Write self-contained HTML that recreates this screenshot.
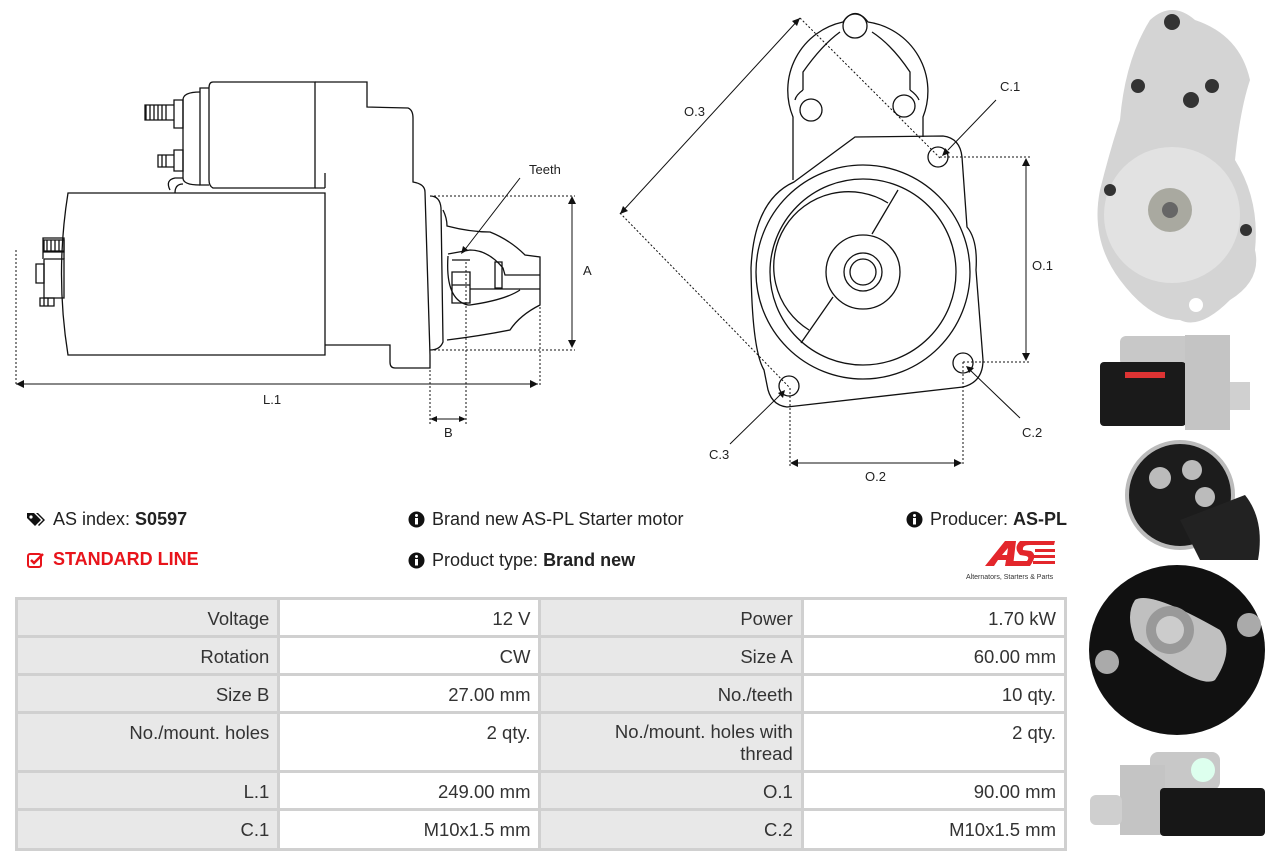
<!DOCTYPE html>
<html><head><meta charset="utf-8"><style>
html,body{margin:0;padding:0;background:#fff;width:1276px;height:860px;overflow:hidden;font-family:"Liberation Sans",sans-serif;}
.abs{position:absolute;}
.t{font-size:18px;color:#222;white-space:nowrap;}
table{position:absolute;left:15px;top:597px;border-collapse:collapse;width:1052px;font-size:18.5px;color:#333;}
td{border:3px solid #d0d0d0;text-align:right;padding:8px 8px 0 8px;vertical-align:top;height:27px;}
td.l{background:#e8e8e8;}
td.v{background:#fff;}
</style></head><body>
<svg class="abs" style="left:0;top:0" width="1276" height="860" viewBox="0 0 1276 860" fill="none" stroke="#111" stroke-width="1.3" font-family="Liberation Sans, sans-serif">
<path d="M68 193 L325 193 L325 355 L68 355 Q55 274 68 193 Z"/>
<path d="M325 188 L325 173 M315 188 L325 188"/>
<path d="M213 82 L315 82 L315 188 L213 188 Q209 186 209 180 L209 88 Q209 82 213 82 Z"/>
<path d="M209 88 L200 88 L200 185 L209 185"/>
<path d="M200 92 Q183 92 183 100 L183 178 Q183 185 200 185"/>
<path d="M315 82 L367 82 L367 107 L408 108 Q413 110 413 118 L413 182 Q425 184 425 192 L430 355 L430 368 L395 368 Q390 368 390 362 L390 345 L325 345"/>
<path d="M170 190 Q165 180 175 178 L183 178 M175 193 Q175 184 183 184"/>
<path d="M174 100 L174 128 L183 128 L183 100 Z M145 105 L174 105 L174 120 L145 120 Z"/>
<path d="M146 105 v15 M150 105 v15 M154 105 v15 M158 105 v15 M162 105 v15 M166 105 v15"/>
<path d="M174 150 L174 171 L183 171 L183 150 Z M158 155 L174 155 L174 167 L158 167 Z M162 155 v12 M166 155 v12"/>
<path d="M43 259 L43 238 L64 238 L64 259"/>
<path d="M44 240 h20 v12 h-20 z M47 240v12 M51 240v12 M55 240v12 M59 240v12"/>
<path d="M44 251 L64 251 M44 259 L64 259 L64 298 L44 298 L44 259"/>
<path d="M36 264 L44 264 L44 283 L36 283 Z"/>
<path d="M40 298 L54 298 L54 306 L40 306 Z M44 298v8 M48 298v8"/>
<path d="M430 196 Q440 196 441 208 L443 342 Q440 350 430 350"/>
<path d="M443 210 Q447 218 447 226 Q470 232 490 232 Q510 240 525 255 L540 257 L540 305 Q520 315 510 330 Q480 336 447 340"/>
<path d="M448 254 L470 250 Q488 250 503 268 L505 275 L540 275 M470 289 L540 289 M448 256 Q445 300 468 305 L470 305 Q505 300 520 290"/>
<path d="M452 272 L470 272 L470 303 L452 303 Z M452 285 L470 285 M452 260 L470 260"/>
<path d="M495 262 L502 262 L502 288 L495 288 Z"/>
<g stroke-dasharray="2,2" stroke-width="1">
<path d="M430 196 L575 196 M430 350 L575 350 M16 250 L16 385 M540 275 L540 385 M430 350 L430 424 M466 262 L466 424"/>
<path d="M620 213 L790 388 M800 18 L940 158 M940 157 L1030 157 M963 362 L1030 362 M790 388 L790 466 M963 362 L963 466"/>
</g>
<g stroke-width="1">
<path d="M572 198 L572 346 M16 384 L538 384 M432 419 L464 419"/>
<path d="M620 214 L800 18 M1026 160 L1026 359 M792 463 L960 463"/>
<path d="M948 150 L996 100 M970 370 L1020 418 M780 395 L730 444 M463 252 L520 178"/>
</g>
<g fill="#111" stroke="none">
<path d="M572 196 l-4 8 h8z M572 348 l-4 -8 h8z M16 384 l8 -4 v8z M538 384 l-8 -4 v8z M430 419 l7 -3 v6z M466 419 l-7 -3 v6z"/>
<path d="M620 214 l3 -8 l5 5z M800 18 l-8 3 l5 5z M1026 158 l-4 8 h8z M1026 361 l-4 -8 h8z M790 463 l8 -4 v8z M962 463 l-8 -4 v8z"/>
<path d="M942 156 l3 -8 l5 5z M966 366 l8 2 l-5 5z M785 390 l-2 8 l-5 -5z M461 254 l2 -8 l5 4z"/>
</g>
<g fill="#222" stroke="none" font-size="13">
<text x="529" y="174">Teeth</text><text x="583" y="275">A</text><text x="263" y="404">L.1</text><text x="444" y="437">B</text>
<text x="684" y="116">O.3</text><text x="1000" y="91">C.1</text><text x="1032" y="270">O.1</text><text x="1022" y="437">C.2</text><text x="709" y="459">C.3</text><text x="865" y="481">O.2</text>
</g>
<path d="M793 180 L793 117 A70 70 0 0 1 843 22 Q855 5 868 22 A70 70 0 0 1 923 117 L923 137"/>
<path d="M803 90 L803 72 Q822 45 840 32 M910 90 L910 72 Q892 45 872 32"/>
<path d="M803 90 Q796 95 795 100 M910 90 Q917 95 919 100"/>
<circle cx="855" cy="26" r="12"/><circle cx="811" cy="110" r="11"/><circle cx="904" cy="106" r="11"/>
<path d="M794 182 L855 137 L943 136 Q960 138 962 157 L967 227 Q978 240 976 270 L983 360 Q983 382 963 387 L787 407 Q770 405 767 385 L764 370 Q752 350 751 268 Q754 200 794 182 Z"/>
<circle cx="863" cy="272" r="107"/><circle cx="863" cy="272" r="93"/>
<path d="M888 203 A72 72 0 0 0 809 330"/>
<path d="M898 190 L872 234 M833 297 L801 343"/>
<circle cx="863" cy="272" r="37"/><circle cx="863" cy="272" r="19"/><circle cx="863" cy="272" r="13"/>
<circle cx="938" cy="157" r="10"/><circle cx="963" cy="363" r="10"/><circle cx="789" cy="386" r="10"/>
<g stroke="none">
<path d="M1150 20 Q1172 0 1195 20 Q1240 35 1250 80 Q1240 110 1235 160 Q1260 200 1255 250 Q1262 280 1230 300 Q1200 330 1180 320 Q1150 320 1120 280 Q1090 240 1100 190 Q1110 150 1120 120 Q1125 60 1150 20 Z" fill="#d4d4d4"/>
<circle cx="1172" cy="215" r="68" fill="#e2e2e2"/><circle cx="1170" cy="210" r="22" fill="#a9a9a0"/><circle cx="1170" cy="210" r="8" fill="#666"/>
<circle cx="1172" cy="22" r="8" fill="#333"/><circle cx="1138" cy="86" r="7" fill="#333"/><circle cx="1212" cy="86" r="7" fill="#333"/><circle cx="1191" cy="100" r="8" fill="#333"/><circle cx="1110" cy="190" r="6" fill="#333"/><circle cx="1246" cy="230" r="6" fill="#333"/><circle cx="1196" cy="305" r="7" fill="#fff"/>
<rect x="1120" y="336" width="80" height="30" rx="6" fill="#c8c8c8"/>
<rect x="1100" y="362" width="86" height="64" rx="4" fill="#1a1a1a"/>
<rect x="1185" y="335" width="45" height="95" fill="#c4c4c4"/><rect x="1230" y="382" width="20" height="28" fill="#d0d0d0"/>
<rect x="1125" y="372" width="40" height="6" fill="#d33"/>
<circle cx="1180" cy="495" r="53" fill="#1c1c1c"/><circle cx="1180" cy="495" r="53" fill="none" stroke="#bbb" stroke-width="4"/>
<circle cx="1160" cy="478" r="11" fill="#bbb"/><circle cx="1192" cy="470" r="10" fill="#bbb"/><circle cx="1205" cy="497" r="10" fill="#bbb"/>
<path d="M1180 520 L1245 495 Q1265 520 1258 560 L1200 560 Z" fill="#222"/>
<ellipse cx="1177" cy="650" rx="88" ry="85" fill="#111"/>
<path d="M1135 600 Q1150 590 1220 630 Q1235 650 1215 680 Q1200 690 1135 640 Q1125 615 1135 600 Z" fill="#c0c0c0"/>
<circle cx="1170" cy="630" r="24" fill="#999"/><circle cx="1170" cy="630" r="14" fill="#ccc"/>
<circle cx="1107" cy="662" r="12" fill="#aaa"/><circle cx="1249" cy="625" r="12" fill="#aaa"/>
<rect x="1150" y="752" width="70" height="38" rx="8" fill="#c8c8c8"/><circle cx="1203" cy="770" r="12" fill="#dfe"/>
<rect x="1120" y="765" width="45" height="70" fill="#c4c4c4"/>
<rect x="1160" y="788" width="105" height="48" rx="4" fill="#171717"/>
<rect x="1090" y="795" width="32" height="30" rx="6" fill="#cfcfcf"/>
</g>
<g stroke="none" fill="#e3262b">
<path d="M985 566 L1005 541 L1016 541 L1013 566 L1005 566 L1006 560 L998 560 L994 566 Z M1002 555 L1007 555 L1008 548 Z"/>
<path d="M1020 541 L1055 541 L1054 545 L1030 545 Q1022 545 1023 550 L1031 551 Q1038 555 1030 566 L1012 566 L1013 561 L1027 561 Q1030 557 1026 556 L1020 555 Q1013 548 1020 541 Z"/>
<rect x="1035" y="549" width="20" height="3"/><rect x="1033" y="555" width="22" height="3"/><rect x="1033" y="561" width="22" height="3"/>
</g>
<text x="966" y="579" font-size="7" fill="#333" stroke="none">Alternators, Starters &amp; Parts</text>
</svg>

<svg class="abs" style="left:26px;top:511px" width="20" height="18" viewBox="0 0 20 18"><path d="M1 2 L8 2 L15 9 L9 15 L1 7 Z" fill="#111"/><path d="M10 2 L12 2 L19 9 L13 15 L12 14 L17 9 Z" fill="#111"/><circle cx="5" cy="6" r="1.6" fill="#fff"/></svg>
<div class="abs t" style="left:53px;top:509px">AS index: <b>S0597</b></div>
<svg class="abs" style="left:27px;top:552px" width="18" height="16" viewBox="0 0 18 16"><rect x="1" y="2" width="13" height="13" rx="2" fill="none" stroke="#e8141b" stroke-width="2"/><path d="M4 8 L7 11 L16 2" fill="none" stroke="#e8141b" stroke-width="2.5"/></svg>
<div class="abs t" style="left:53px;top:549px;color:#e8141b;font-weight:bold">STANDARD LINE</div>
<svg class="abs" style="left:408px;top:511px" width="17" height="17"><circle cx="8.5" cy="8.5" r="8" fill="#111"/><rect x="7" y="7" width="3" height="6.5" fill="#fff"/><circle cx="8.5" cy="4.5" r="1.5" fill="#fff"/></svg>
<div class="abs t" style="left:432px;top:509px">Brand new AS-PL Starter motor</div>
<svg class="abs" style="left:408px;top:552px" width="17" height="17"><circle cx="8.5" cy="8.5" r="8" fill="#111"/><rect x="7" y="7" width="3" height="6.5" fill="#fff"/><circle cx="8.5" cy="4.5" r="1.5" fill="#fff"/></svg>
<div class="abs t" style="left:432px;top:550px">Product type: <b>Brand new</b></div>
<svg class="abs" style="left:906px;top:511px" width="17" height="17"><circle cx="8.5" cy="8.5" r="8" fill="#111"/><rect x="7" y="7" width="3" height="6.5" fill="#fff"/><circle cx="8.5" cy="4.5" r="1.5" fill="#fff"/></svg>
<div class="abs t" style="left:930px;top:509px">Producer: <b>AS-PL</b></div>

<table>
<colgroup><col style="width:263px"><col style="width:262px"><col style="width:263px"><col style="width:264px"></colgroup>
<tr><td class="l">Voltage</td><td class="v">12 V</td><td class="l">Power</td><td class="v">1.70 kW</td></tr>
<tr><td class="l">Rotation</td><td class="v">CW</td><td class="l">Size A</td><td class="v">60.00 mm</td></tr>
<tr><td class="l">Size B</td><td class="v">27.00 mm</td><td class="l">No./teeth</td><td class="v">10 qty.</td></tr>
<tr><td class="l" style="height:48px">No./mount. holes</td><td class="v">2 qty.</td><td class="l" style="line-height:22px;padding-top:7px">No./mount. holes with<br>thread</td><td class="v">2 qty.</td></tr>
<tr><td class="l">L.1</td><td class="v">249.00 mm</td><td class="l">O.1</td><td class="v">90.00 mm</td></tr>
<tr><td class="l" style="height:29px">C.1</td><td class="v">M10x1.5 mm</td><td class="l">C.2</td><td class="v">M10x1.5 mm</td></tr>
</table>
</body></html>
